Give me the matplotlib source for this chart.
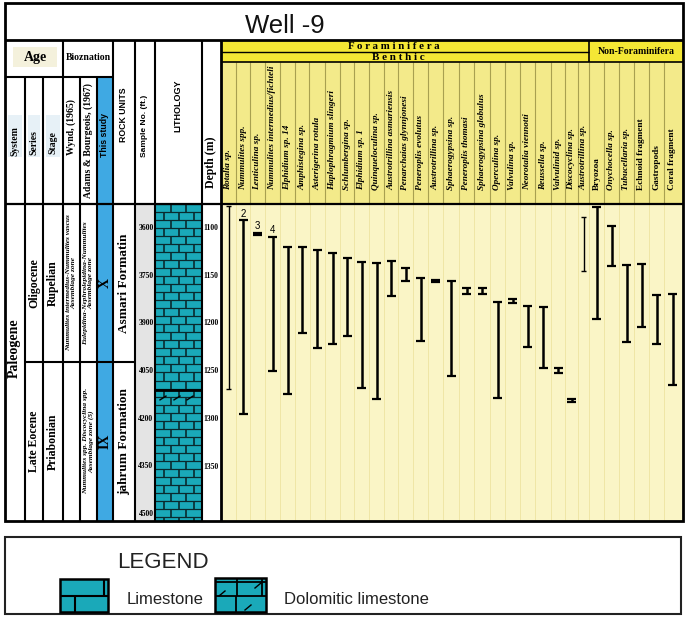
import numpy as np
import matplotlib.pyplot as plt
from matplotlib.patches import Rectangle

W, H = 685, 620
SERIF = 'Liberation Serif'
SANS = 'Liberation Sans'

# ---- data ----
foram_taxa = ['Rotalia sp.', 'Nummulites spp.', 'Lenticulina sp.',
              'Nummulites intermedius/fichteli', 'Elphidium sp. 14',
              'Amphistegina sp.', 'Asterigerina rotula', 'Haplophragmium slingeri',
              'Schlumbergina sp.', 'Elphidium sp. 1', 'Quinqueloculina sp.',
              'Austrotrillina asmariensis', 'Penarchaias glynnjonesi',
              'Peneroplis evolutus', 'Austrotrillina sp.', 'Sphaerogypsina sp.',
              'Peneroplis thomasi', 'Sphaerogypsina globulus', 'Operculina sp.',
              'Valvulina sp.', 'Neorotalia viennotti', 'Reussella sp.',
              'Valvulinid sp.', 'Discocyclina sp.', 'Austrotrillina sp.']
nonforam_taxa = ['Bryozoa', 'Onychocella sp.', 'Tubucellaria sp.',
                 'Echnoid fragment', 'Gastropods', 'Coral fragment']
nonforam_italic = [False, True, True, False, False, False]

# first and last occurrence depth (m)
range_top = [1077, 1092, 1105, 1109, 1120, 1120, 1123, 1126, 1131, 1136,
             1137, 1135, 1142, 1152, 1154, 1156, 1163, 1163, 1177, 1174,
             1182, 1183, 1247, 1279, 1089,
             1078, 1098, 1139, 1138, 1170, 1169]
range_base = [1269, 1295, 1107, 1250, 1274, 1210, 1226, 1221, 1213, 1268,
              1279, 1171, 1155, 1218, 1157, 1255, 1169, 1169, 1278, 1179,
              1225, 1247, 1252, 1282, 1145,
              1195, 1140, 1219, 1204, 1222, 1264]
thin_bars = [0, 24]
note_cols = [1, 2, 3]
note_text = ['2', '3', '4']

depth_ticks = [1100, 1150, 1200, 1250, 1300, 1350]
sample_ticks = [3600, 3750, 3900, 4050, 4200, 4350, 4500]

lith_top = [1075, 1270, 1285]
lith_base = [1270, 1285, 1407]
lith_type = ['Limestone', 'Dolomitic limestone', 'Limestone']

boundary = 1240
series_names = ['Oligocene', 'Late Eocene']
stage_names = ['Rupelian', 'Priabonian']
wynd_zones = ['Nummulites intermedius-Nummulites vascus\nAssemblage zone', '']
adams_zones = ['Eulepidina-Nephrolepidina-Nummulites\nAssemblage zone',
               'Nummulites spp. Discocyclina spp.\nAssemblage zone (5)']
study_zones = ['X', 'IX']
rock_units = ['Asmari Formatin', 'jahrum Formation']

# ---- layout (pixels) ----
D_TOP, D_BOT = 1074.9, 1406.8
FT_TOP, FT_BOT = 3524.5, 4521.4
edges = [221, 236, 250, 265, 280, 295, 309.5, 325, 340, 354, 369, 384, 398,
         413, 428, 443, 459, 474, 490, 505, 520, 535, 551, 565, 578, 589,
         604, 619, 634, 649, 664, 681]
centers = [(a + b) / 2 for a, b in zip(edges[:-1], edges[1:])]
TEAL = '#1aa9b9'
BLUE = '#3fa9e3'


def frac(x0, y0, x1, y1):
    return [x0 / W, 1 - y1 / H, (x1 - x0) / W, (y1 - y0) / H]


fig = plt.figure(figsize=(W / 100, H / 100), dpi=100)
base = fig.add_axes([0, 0, 1, 1])
base.set_xlim(0, W)
base.set_ylim(H, 0)
base.axis('off')

# header backgrounds
base.add_patch(Rectangle((221, 40), 368, 22, color='#f4e735', lw=0))
base.add_patch(Rectangle((589, 40), 94, 22, color='#f4e735', lw=0))
base.add_patch(Rectangle((221, 62), 462, 142, color='#f3ea8a', lw=0))
base.add_patch(Rectangle((97, 77), 16, 127, color=BLUE, lw=0))
base.add_patch(Rectangle((13, 47), 44, 20, color='#f4f1dc', lw=0))
for x0, w in [(8, 14), (28, 12), (46, 14)]:
    base.add_patch(Rectangle((x0, 115), w, 42, color='#e7f1f7', lw=0))
base.vlines(edges[1:-1], 62, 204, color='#a8a050', lw=0.8)

all_taxa = foram_taxa + nonforam_taxa
italic = [True] * len(foram_taxa) + nonforam_italic
clip = Rectangle((221, 62), 462, 142, transform=base.transData)
for x, name, it in zip(centers, all_taxa, italic):
    t = base.text(x, 190, name, rotation=90, ha='center', va='bottom',
                  fontsize=6.7, family=SERIF, weight='bold',
                  style='italic' if it else 'normal')
    t.set_clip_path(clip)

# ---- data area: depth on y ----
ad = fig.add_axes(frac(5, 204, 683, 521))
ad.set_xlim(5, 683)
ad.set_ylim(D_BOT, D_TOP)
ad.axis('off')
ad.axvspan(221, 683, color='#faf5c6', lw=0)
ad.vlines(edges[1:-1], D_TOP, D_BOT, color='#efe6a6', lw=0.7)
ad.axvspan(97, 113, color=BLUE, lw=0)
ad.axvspan(135, 155, color='#e4e4e4', lw=0)
ad.axvspan(202, 221, color='white', lw=0)

# lithology
for t0, t1, kind in zip(lith_top, lith_base, lith_type):
    ad.add_patch(Rectangle((155, t0), 47, t1 - t0, color=TEAL, lw=0))
ROW = 8.4
for k, c in enumerate(np.arange(D_TOP, D_BOT, ROW)):
    ad.hlines(c, 155, 202, color='#0a2a2e', lw=0.9)
    joints = [171, 186] if k % 2 == 0 else [163.5, 178.5, 193.5]
    ad.vlines(joints, c, min(c + ROW, D_BOT), color='#0a2a2e', lw=1.2)
for t0, t1, kind in zip(lith_top, lith_base, lith_type):
    if kind.startswith('Dolomitic'):
        ad.hlines(t0, 155, 202, color='k', lw=2)
        for x in [160, 174, 187]:
            ad.plot([x, x + 6], [t0 + 10, t0 + 6], color='k', lw=1)

# zone boundary and labels
ad.hlines(boundary, 25, 135, color='k', lw=1.5)
mids = [(D_TOP + boundary) / 2, (boundary + D_BOT) / 2]
ad.text(14, (D_TOP + D_BOT) / 2 - 15, 'Paleogene', rotation=90, ha='center',
        va='center', fontsize=10, family=SERIF, weight='bold')
for m, s1, s2, wz, az, sz, ru in zip(mids, series_names, stage_names,
                                      wynd_zones, adams_zones, study_zones,
                                      rock_units):
    ad.text(34, m, s1, rotation=90, ha='center', va='center', fontsize=8.5,
            family=SERIF, weight='bold')
    ad.text(53, m, s2, rotation=90, ha='center', va='center', fontsize=8.5,
            family=SERIF, weight='bold')
    ad.text(71.5, m, wz, rotation=90, ha='center', va='center', fontsize=5.3,
            family=SERIF, weight='bold', style='italic', linespacing=1.0)
    ad.text(88.5, m, az, rotation=90, ha='center', va='center', fontsize=5.3,
            family=SERIF, weight='bold', style='italic', linespacing=1.0)
    ad.text(105, m, sz, rotation=90, ha='center', va='center', fontsize=10,
            family=SERIF, weight='bold')
    ad.text(124, m, ru, rotation=90, ha='center', va='center', fontsize=9.5,
            family=SERIF, weight='bold')

for d in depth_ticks:
    ad.text(203.5, d, str(d), ha='left', va='center', fontsize=5.5,
            family=SERIF, weight='bold')

ads = ad.twinx()
ads.set_ylim(FT_BOT, FT_TOP)
ads.axis('off')
for f in sample_ticks:
    ads.text(153.5, f, str(f), ha='right', va='center', fontsize=5.5,
             family=SERIF, weight='bold')

# range bars
for i, (x, t0, t1) in enumerate(zip(centers, range_top, range_base)):
    thin = i in thin_bars
    lw = 1.0 if thin else 1.8
    cw = 2.5 if thin else 4.5
    ad.vlines(x, t0, t1, color='k', lw=lw)
    ad.hlines([t0, t1], x - cw, x + cw, color='k', lw=1.6 if not thin else 1.0)
for c, s in zip(note_cols, note_text):
    ad.text(centers[c], range_top[c] - 1.5, s, ha='center', va='bottom',
            fontsize=7, family=SANS)

# ---- overlay: frame lines and header text ----
ov = fig.add_axes([0, 0, 1, 1])
ov.set_xlim(0, W)
ov.set_ylim(H, 0)
ov.axis('off')
ov.patch.set_alpha(0)
K = dict(color='k')
ov.add_patch(Rectangle((5, 3), 678, 518, fill=False, lw=2, ec='k'))
ov.hlines(40, 5, 683, lw=2, **K)
ov.hlines(77, 5, 113, lw=1.5, **K)
ov.hlines(204, 5, 683, lw=1.6, **K)
ov.vlines([25, 43, 80, 97], 77, 521, lw=1.5, **K)
ov.vlines([63, 113, 135, 155, 202], 40, 521, lw=1.5, **K)
ov.vlines(221, 40, 521, lw=2, **K)
ov.hlines(52, 221, 589, lw=1.0, **K)
ov.hlines(62, 221, 683, lw=1.2, **K)
ov.vlines(589, 40, 62, lw=1.2, **K)

ov.text(285, 26, 'Well -9', ha='center', va='center', fontsize=18.5,
        family=SANS, color='#111')
ov.text(35, 57, 'Age', ha='center', va='center', fontsize=10,
        family=SERIF, weight='bold')
ov.text(88, 58, 'Bioznation', ha='center', va='center', fontsize=7,
        family=SERIF, weight='bold')
ov.text(394, 46.5, 'F o r a m i n i f e r a', ha='center', va='center',
        fontsize=7.8, family=SERIF, weight='bold')
ov.text(398, 57.5, 'B e n t h i c', ha='center', va='center',
        fontsize=8, family=SERIF, weight='bold')
ov.text(636, 51, 'Non-Foraminifera', ha='center', va='center',
        fontsize=7, family=SERIF, weight='bold')

vhead = [(15, 141, 'System', SERIF, 7), (34, 143, 'Series', SERIF, 7),
         (53, 143, 'Stage', SERIF, 7), (71.5, 127, 'Wynd, (1965)', SERIF, 7),
         (88.5, 141, 'Adams & Bourgeois, (1967)', SERIF, 7),
         (105, 135, 'This study', SANS, 6.3), (124, 115, 'ROCK UNITS', SANS, 6.3),
         (145, 126, 'Sample No. (ft.)', SANS, 6),
         (178, 106, 'LITHOLOGY', SANS, 6.5), (211.5, 162, 'Depth (m)', SERIF, 8.5)]
for x, y, s, fam, fs in vhead:
    ov.text(x, y, s, rotation=90, ha='center', va='center', fontsize=fs,
            family=fam, weight='bold')

# ---- legend ----
ov.add_patch(Rectangle((5, 537), 676, 77, fill=False, lw=1.5, ec='#222'))
ov.text(117, 563, 'LEGEND', ha='left', va='center', fontsize=16,
        family=SANS, color='#222')
ov.add_patch(Rectangle((60, 579), 48, 33, fc=TEAL, ec='k', lw=1.8))
ov.hlines(596, 60, 108, lw=1.5, **K)
ov.vlines(104, 579, 596, lw=1.5, **K)
ov.vlines(75, 596, 612, lw=1.5, **K)
ov.text(127, 600, 'Limestone', ha='left', va='center', fontsize=12,
        family=SANS, color='#222')
ov.add_patch(Rectangle((215, 578), 51, 34, fc=TEAL, ec='k', lw=1.8))
ov.hlines([582, 596], 215, 266, lw=1.3, **K)
ov.vlines([237, 262], 578, 596, lw=1.3, **K)
ov.vlines(236, 596, 612, lw=1.3, **K)
for x, y in [(219, 596), (245, 610), (255, 588)]:
    ov.plot([x, x + 6], [y, y - 5], color='k', lw=1)
ov.text(284, 600, 'Dolomitic limestone', ha='left', va='center', fontsize=12,
        family=SANS, color='#222')

fig.savefig('out.png', dpi=100)
